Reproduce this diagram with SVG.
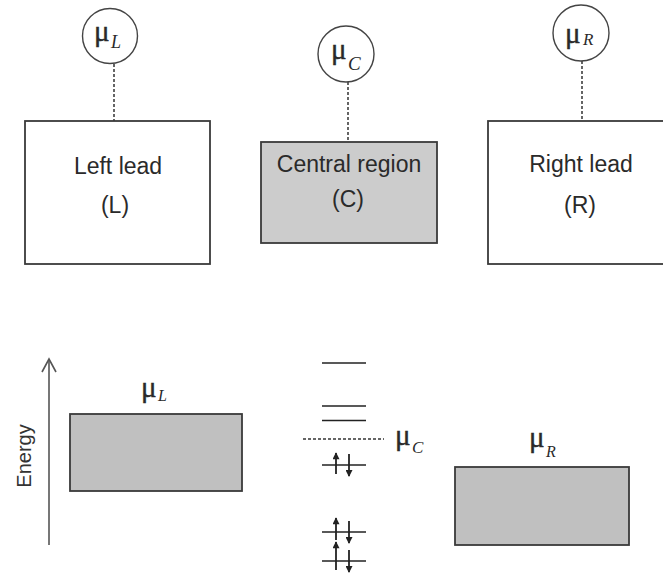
<svg xmlns="http://www.w3.org/2000/svg" width="663" height="573" viewBox="0 0 663 573">
<defs>
<style>
.box{stroke:#3a3a3a;stroke-width:1.8;}
.white{fill:#ffffff;}
.cgrey{fill:#cccccc;}
.bgrey{fill:#c0c0c0;}
.circ{fill:#ffffff;stroke:#444444;stroke-width:1.4;}
.dash{stroke:#333333;stroke-width:1.5;stroke-dasharray:3,2;fill:none;}
.lbl{font-family:"Liberation Sans",Arial,sans-serif;font-size:23px;fill:#2a2a2a;text-anchor:middle;}
.mu{font-family:"Liberation Serif","Times New Roman",serif;font-size:29px;fill:#2a2a2a;stroke:#2a2a2a;stroke-width:0.4;}
.sub{font-family:"Liberation Serif","Times New Roman",serif;font-style:italic;fill:#2a2a2a;}
.lvl{stroke:#222222;stroke-width:1.7;fill:none;}
.spin{stroke:#222222;stroke-width:1.8;fill:none;}
.axis{stroke:#555555;stroke-width:1.6;fill:none;}
</style>
<marker id="ah" viewBox="0 0 8 8" refX="7" refY="4" markerWidth="8" markerHeight="7" markerUnits="userSpaceOnUse" orient="auto">
<path d="M0,0 L8,4 L0,8 Z" fill="#222222"/>
</marker>
</defs>

<g id="connectors">
<line class="dash" x1="114" y1="64" x2="114" y2="121"/>
<line class="dash" x1="348" y1="82" x2="348" y2="142"/>
<line class="dash" x1="582" y1="61" x2="582" y2="121"/>
</g>

<g id="muL">
<circle class="circ" cx="110" cy="36" r="27.5"/>
<text class="mu" x="94" y="41">μ</text>
<text class="sub" x="111" y="48" font-size="18">L</text>
</g>
<g id="muC">
<circle class="circ" cx="346" cy="54" r="28"/>
<text class="mu" x="331" y="59">μ</text>
<text class="sub" x="348" y="70" font-size="19">C</text>
</g>
<g id="muR">
<circle class="circ" cx="581" cy="33" r="28"/>
<text class="mu" x="565" y="43">μ</text>
<text class="sub" x="583" y="45" font-size="17">R</text>
</g>

<g id="leftLead">
<rect class="box white" x="25" y="121" width="185" height="143"/>
<text class="lbl" x="118" y="174">Left lead</text>
<text class="lbl" x="115" y="213">(L)</text>
</g>
<g id="centralRegion">
<rect class="box cgrey" x="261" y="142" width="176" height="101"/>
<text class="lbl" x="349" y="172">Central region</text>
<text class="lbl" x="348" y="207">(C)</text>
</g>
<g id="rightLead">
<rect class="box white" x="488" y="121" width="190" height="143"/>
<text class="lbl" x="581" y="172">Right lead</text>
<text class="lbl" x="580" y="213">(R)</text>
</g>

<g id="energyAxis">
<line class="axis" x1="49" y1="545" x2="49" y2="359"/>
<polyline class="axis" points="42,372 49,359 56,372"/>
<text transform="translate(31,456) rotate(-90)" x="0" y="0" style="font-family:'Liberation Sans',Arial,sans-serif;font-size:20px;fill:#333333;text-anchor:middle;">Energy</text>
</g>

<g id="leftBand">
<rect class="box bgrey" x="70" y="414" width="172" height="77"/>
<text class="mu" x="141" y="397">μ</text>
<text class="sub" x="158" y="401" font-size="16">L</text>
</g>

<g id="rightBand">
<rect class="box bgrey" x="455" y="467" width="174" height="78"/>
<text class="mu" x="529" y="447">μ</text>
<text class="sub" x="546" y="457" font-size="16">R</text>
</g>

<g id="centralLevels">
<line class="lvl" x1="322" y1="363" x2="366" y2="363"/>
<line class="lvl" x1="322" y1="406" x2="366" y2="406"/>
<line class="lvl" x1="322" y1="420.5" x2="366" y2="420.5"/>
<line class="dash" x1="303" y1="439" x2="384" y2="439"/>
<text class="mu" x="395" y="445">μ</text>
<text class="sub" x="412" y="453" font-size="17">C</text>

<line class="lvl" x1="322" y1="465" x2="366" y2="465"/>
<line class="spin" x1="336" y1="474" x2="336" y2="453" marker-end="url(#ah)"/>
<line class="spin" x1="349" y1="454" x2="349" y2="476" marker-end="url(#ah)"/>

<line class="lvl" x1="322" y1="532" x2="366" y2="532"/>
<line class="spin" x1="336" y1="540" x2="336" y2="518" marker-end="url(#ah)"/>
<line class="spin" x1="349" y1="521" x2="349" y2="543" marker-end="url(#ah)"/>

<line class="lvl" x1="322" y1="561" x2="366" y2="561"/>
<line class="spin" x1="336" y1="570" x2="336" y2="542" marker-end="url(#ah)"/>
<line class="spin" x1="349" y1="550" x2="349" y2="572" marker-end="url(#ah)"/>
</g>
</svg>
